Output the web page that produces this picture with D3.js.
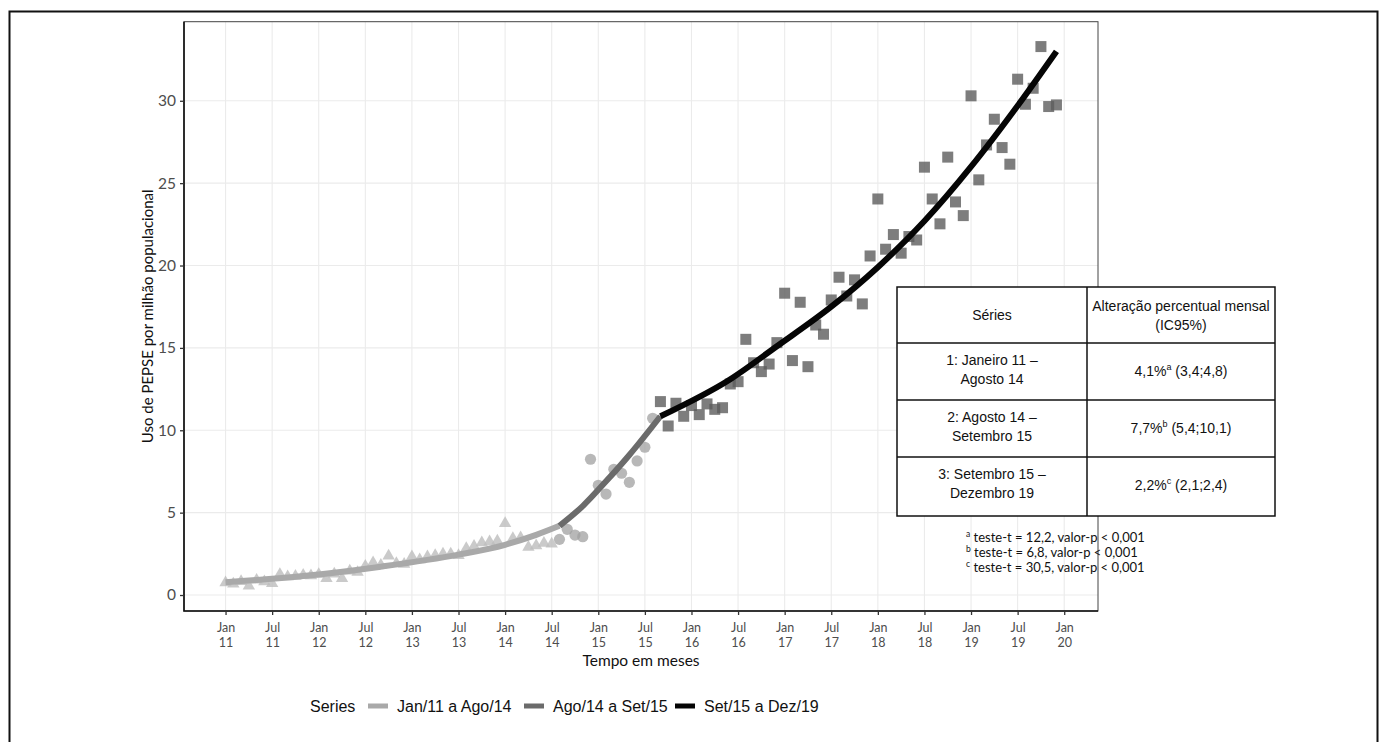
<!DOCTYPE html>
<html>
<head>
<meta charset="utf-8">
<script src="https://cdn.jsdelivr.net/npm/d3@7"></script>
<style>
  body { margin: 0; background: #fff; }
  svg { display: block; }
</style>
</head>
<body>
<svg id="chart" width="1381" height="742"></svg>
<script>
// Series 1: Jan/11 .. Jul/14 (triangles), one value per month starting at month 0
var s1Start = 0;
var s1Values = [0.75, 0.67, 0.83, 0.55, 0.91, 0.81, 0.71, 1.26, 1.11, 1.15, 1.21, 1.17,
  1.26, 1.01, 1.28, 1.01, 1.46, 1.38, 1.76, 1.96, 1.82, 2.37, 1.92, 1.87,
  2.33, 2.15, 2.33, 2.4, 2.5, 2.5, 2.4, 2.83, 2.97, 3.18, 3.24, 3.28,
  4.35, 3.44, 3.48, 2.9, 3.0, 3.15, 3.1];

// Series 2: Aug/14 .. Aug/15 (circles)
var s2Start = 43;
var s2Values = [3.38, 3.99, 3.64, 3.54, 8.24, 6.66, 6.13, 7.63, 7.39, 6.84, 8.14, 8.97, 10.73];

// Series 3: Sep/15 .. Dec/19 (squares)
var s3Start = 56;
var s3Values = [11.74, 10.26, 11.64, 10.85, 11.5, 10.95, 11.6, 11.27, 11.37, 12.81, 12.95, 15.52,
  14.1, 13.56, 14.02, 15.32, 18.32, 14.23, 17.77, 13.86, 16.39, 15.83, 17.91, 19.29,
  18.15, 19.13, 17.67, 20.58, 24.04, 20.99, 21.88, 20.75, 21.76, 21.55, 25.97, 24.04,
  22.53, 26.58, 23.86, 23.03, 30.3, 25.2, 27.32, 28.88, 27.16, 26.15, 31.31, 29.79,
  30.76, 33.29, 29.65, 29.75];

// fitted segments: [month, value]
var fit1 = [[0, 0.78], [10, 1.15], [20, 1.72], [30, 2.45], [36, 3.05], [40, 3.65], [43, 4.2]];
var fit2 = [[43, 4.2], [46, 5.4], [49, 6.9], [52, 8.5], [56, 10.85]];
var fit3 = [[56, 10.85], [65, 13.1], [71, 15.1], [78, 17.5], [84, 19.9], [90, 22.7], [96, 26.0], [102, 29.7], [107, 33.0]];

var xTickMonths = [0, 6, 12, 18, 24, 30, 36, 42, 48, 54, 60, 66, 72, 78, 84, 90, 96, 102, 108];
var xTickLabels = ['Jan 11', 'Jul 11', 'Jan 12', 'Jul 12', 'Jan 13', 'Jul 13', 'Jan 14', 'Jul 14',
  'Jan 15', 'Jul 15', 'Jan 16', 'Jul 16', 'Jan 17', 'Jul 17', 'Jan 18', 'Jul 18', 'Jan 19', 'Jul 19', 'Jan 20'];
var yTicks = [0, 5, 10, 15, 20, 25, 30];

var legendLabels = ['Jan/11 a Ago/14', 'Ago/14 a Set/15', 'Set/15 a Dez/19'];

var tableHeader = ['Séries', ['Alteração percentual mensal', '(IC95%)']];
var tableSeries = [['1: Janeiro 11 –', 'Agosto 14'], ['2: Agosto 14 –', 'Setembro 15'], ['3: Setembro 15 –', 'Dezembro 19']];
var tableRates = [['4,1%', 'a', ' (3,4;4,8)'], ['7,7%', 'b', ' (5,4;10,1)'], ['2,2%', 'c', ' (2,1;2,4)']];
var footnotes = [['a', ' teste-t = 12,2, valor-p < 0,001'], ['b', ' teste-t = 6,8, valor-p < 0,001'], ['c', ' teste-t = 30,5, valor-p < 0,001']];

var lineColors = ['#a9a9a9', '#6b6b6b', '#050505'];

var svg = d3.select('#chart');
var panel = { left: 184, right: 1098, top: 21.7, bottom: 611 };

var x = d3.scaleLinear().domain([-5.35, 112.35]).range([panel.left, panel.right]);
var y = d3.scaleLinear().domain([-0.97, 34.8]).range([panel.bottom, panel.top]);

// outer frame
svg.append('path')
  .attr('d', 'M9.5,760 V11.5 H1377.5 V760')
  .attr('fill', 'none')
  .attr('stroke', '#111')
  .attr('stroke-width', 2);

// panel background + grid
svg.append('rect')
  .attr('x', panel.left).attr('y', panel.top)
  .attr('width', panel.right - panel.left).attr('height', panel.bottom - panel.top)
  .attr('fill', '#fff');

var grid = svg.append('g').attr('class', 'grid');
grid.selectAll('line.v').data(xTickMonths).enter().append('line')
  .attr('x1', x).attr('x2', x)
  .attr('y1', panel.top).attr('y2', panel.bottom)
  .attr('stroke', '#ebebeb').attr('stroke-width', 1.1);
grid.selectAll('line.h').data(yTicks).enter().append('line')
  .attr('y1', y).attr('y2', y)
  .attr('x1', panel.left).attr('x2', panel.right)
  .attr('stroke', '#ebebeb').attr('stroke-width', 1.1);

function toPoints(start, values) {
  return values.map(function (v, i) { return { m: start + i, v: v }; });
}

var plot = svg.append('g');

plot.selectAll('path.tri').data(toPoints(s1Start, s1Values)).enter().append('path')
  .attr('d', d3.symbol().type(d3.symbolTriangle).size(66))
  .attr('transform', function (d) { return 'translate(' + x(d.m) + ',' + y(d.v) + ')'; })
  .attr('fill', '#bdbdbd').attr('fill-opacity', 0.8);

plot.selectAll('circle.c').data(toPoints(s2Start, s2Values)).enter().append('circle')
  .attr('cx', function (d) { return x(d.m); })
  .attr('cy', function (d) { return y(d.v); })
  .attr('r', 5.6)
  .attr('fill', '#a0a0a0').attr('fill-opacity', 0.75);

plot.selectAll('rect.sq').data(toPoints(s3Start, s3Values)).enter().append('rect')
  .attr('x', function (d) { return x(d.m) - 5.5; })
  .attr('y', function (d) { return y(d.v) - 5.5; })
  .attr('width', 11).attr('height', 11)
  .attr('fill', '#5c5c5c').attr('fill-opacity', 0.8);

var line = d3.line()
  .x(function (d) { return x(d[0]); })
  .y(function (d) { return y(d[1]); })
  .curve(d3.curveMonotoneX);

[fit1, fit2, fit3].forEach(function (seg, i) {
  plot.append('path')
    .attr('d', line(seg))
    .attr('fill', 'none')
    .attr('stroke', lineColors[i])
    .attr('stroke-width', 6);
});

// panel border (theme_bw style) and axis lines
svg.append('rect')
  .attr('x', panel.left).attr('y', panel.top)
  .attr('width', panel.right - panel.left).attr('height', panel.bottom - panel.top)
  .attr('fill', 'none').attr('stroke', '#444').attr('stroke-width', 1);
svg.append('path')
  .attr('d', 'M' + panel.left + ',' + panel.top + ' V' + panel.bottom + ' H' + panel.right)
  .attr('fill', 'none').attr('stroke', '#111').attr('stroke-width', 1.6);

// axes
var xAxis = d3.axisBottom(x).tickValues(xTickMonths).tickSize(4).tickFormat('');
var gx = svg.append('g').attr('transform', 'translate(0,' + panel.bottom + ')').call(xAxis);
gx.select('.domain').remove();
gx.selectAll('.tick line').attr('stroke', '#333').attr('stroke-width', 1.3);
gx.selectAll('.tick').each(function (d, i) {
  var parts = xTickLabels[i].split(' ');
  var t = d3.select(this).append('text')
    .attr('fill', '#4d4d4d')
    .attr('font-family', 'Lato, sans-serif')
    .attr('font-size', 12.5)
    .attr('text-anchor', 'middle');
  t.append('tspan').attr('x', 0).attr('y', 21).text(parts[0]);
  t.append('tspan').attr('x', 0).attr('y', 36).text(parts[1]);
});

var yAxis = d3.axisLeft(y).tickValues(yTicks).tickSize(4);
var gy = svg.append('g').attr('transform', 'translate(' + panel.left + ',0)').call(yAxis);
gy.select('.domain').remove();
gy.selectAll('.tick line').attr('stroke', '#333').attr('stroke-width', 1.3);
gy.selectAll('.tick text')
  .attr('fill', '#4d4d4d')
  .attr('font-family', 'Lato, sans-serif')
  .attr('font-size', 15.5)
  .attr('x', -8);

svg.append('text')
  .attr('transform', 'translate(153,' + (panel.top + panel.bottom) / 2 + ') rotate(-90)')
  .attr('text-anchor', 'middle')
  .attr('font-family', 'Lato, sans-serif')
  .attr('font-size', 15)
  .attr('fill', '#111')
  .text('Uso de PEPSE por milhão populacional');

svg.append('text')
  .attr('x', (panel.left + panel.right) / 2)
  .attr('y', 666)
  .attr('text-anchor', 'middle')
  .attr('font-family', 'Lato, sans-serif')
  .attr('font-size', 15.5)
  .attr('fill', '#111')
  .text('Tempo em meses');

// legend
var legend = svg.append('g').attr('font-family', '"Liberation Sans", Arial, sans-serif').attr('font-size', 16).attr('fill', '#111');
legend.append('text').attr('x', 310).attr('y', 712).text('Series');
var keyX = [368, 524, 675];
legendLabels.forEach(function (lab, i) {
  legend.append('line')
    .attr('x1', keyX[i]).attr('x2', keyX[i] + 20)
    .attr('y1', 706).attr('y2', 706)
    .attr('stroke', lineColors[i]).attr('stroke-width', 5);
  legend.append('text').attr('x', keyX[i] + 29).attr('y', 712).text(lab);
});

// results table
var tbl = { left: 897, mid: 1087, right: 1275, rows: [287, 343, 400, 457, 516] };
var tg = svg.append('g').attr('font-family', '"Liberation Sans", Arial, sans-serif').attr('font-size', 14).attr('fill', '#111');
tg.append('rect')
  .attr('x', tbl.left).attr('y', tbl.rows[0])
  .attr('width', tbl.right - tbl.left).attr('height', tbl.rows[4] - tbl.rows[0])
  .attr('fill', '#fff').attr('stroke', '#111').attr('stroke-width', 1.5);
tbl.rows.slice(1, 4).forEach(function (ry) {
  tg.append('line').attr('x1', tbl.left).attr('x2', tbl.right).attr('y1', ry).attr('y2', ry)
    .attr('stroke', '#111').attr('stroke-width', 1.5);
});
tg.append('line').attr('x1', tbl.mid).attr('x2', tbl.mid).attr('y1', tbl.rows[0]).attr('y2', tbl.rows[4])
  .attr('stroke', '#111').attr('stroke-width', 1.5);

var c1 = (tbl.left + tbl.mid) / 2;
var c2 = (tbl.mid + tbl.right) / 2;
tg.append('text').attr('x', c1).attr('y', 320).attr('text-anchor', 'middle').text(tableHeader[0]);
tg.append('text').attr('x', c2).attr('y', 311).attr('text-anchor', 'middle').text(tableHeader[1][0]);
tg.append('text').attr('x', c2).attr('y', 330).attr('text-anchor', 'middle').text(tableHeader[1][1]);

tableSeries.forEach(function (lines, i) {
  var top = tbl.rows[i + 1];
  tg.append('text').attr('x', c1).attr('y', top + 22).attr('text-anchor', 'middle').text(lines[0]);
  tg.append('text').attr('x', c1).attr('y', top + 41).attr('text-anchor', 'middle').text(lines[1]);
  var r = tableRates[i];
  var t = tg.append('text').attr('x', c2).attr('y', top + 33).attr('text-anchor', 'middle');
  t.append('tspan').text(r[0]);
  t.append('tspan').attr('font-size', 9).attr('dy', -6).text(r[1]);
  t.append('tspan').attr('dy', 6).text(r[2]);
});

var fg = svg.append('g').attr('font-family', 'Lato, sans-serif').attr('font-size', 13).attr('fill', '#111');
footnotes.forEach(function (f, i) {
  var t = fg.append('text').attr('x', 966).attr('y', 542 + i * 15);
  t.append('tspan').attr('font-size', 8.5).attr('dy', -5).text(f[0]);
  t.append('tspan').attr('dy', 5).text(f[1]);
});
</script>
</body>
</html>
